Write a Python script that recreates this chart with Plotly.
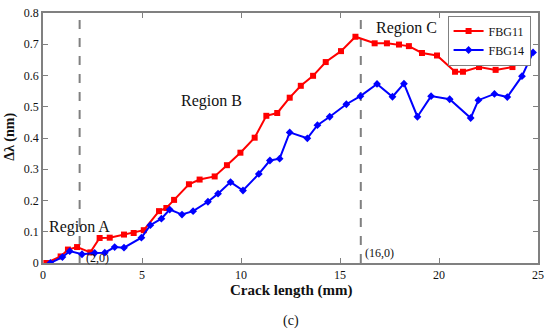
import plotly.graph_objects as go

# FBG11 (red squares)
fbg11_x = [0.17, 0.89, 1.26, 1.72, 2.39, 2.86, 3.37, 4.09, 4.58, 5.09, 5.86, 6.23, 6.62,
           7.37, 7.91, 8.67, 9.29, 9.97, 10.69, 11.28, 11.83, 12.46, 13.02, 13.64, 14.28,
           15.05, 15.78, 16.75, 17.37, 17.98, 18.48, 19.14, 19.90, 20.81, 21.21, 22.02,
           22.86, 23.71, 24.26]
fbg11_y = [0.0, 0.021, 0.043, 0.051, 0.034, 0.080, 0.081, 0.091, 0.096, 0.105, 0.166, 0.176,
           0.202, 0.252, 0.267, 0.277, 0.313, 0.353, 0.401, 0.471, 0.480, 0.529, 0.567, 0.599,
           0.643, 0.678, 0.724, 0.703, 0.703, 0.699, 0.694, 0.672, 0.664, 0.612, 0.612,
           0.627, 0.618, 0.627, 0.653]

# FBG14 (blue diamonds)
fbg14_x = [0.37, 0.98, 1.35, 1.97, 2.61, 3.12, 3.62, 4.09, 4.97, 5.42, 5.98, 6.40, 7.02,
           7.58, 8.33, 8.84, 9.47, 10.10, 10.90, 11.46, 11.95, 12.46, 13.35, 13.86, 14.48,
           15.32, 16.03, 16.87, 17.65, 18.23, 18.91, 19.60, 20.54, 21.60, 21.99, 22.80,
           23.45, 24.19, 24.75]
fbg14_y = [0.0, 0.019, 0.038, 0.028, 0.032, 0.033, 0.051, 0.049, 0.081, 0.121, 0.142, 0.171,
           0.155, 0.166, 0.196, 0.222, 0.259, 0.232, 0.285, 0.328, 0.334, 0.418, 0.399, 0.441,
           0.468, 0.508, 0.534, 0.573, 0.532, 0.574, 0.468, 0.534, 0.524, 0.464, 0.521,
           0.541, 0.531, 0.598, 0.674]

x_ticks = [0, 5, 10, 15, 20, 25]
y_ticks = [0, 0.1, 0.2, 0.3, 0.4, 0.5, 0.6, 0.7, 0.8]
y_tick_text = ["0", "0.1", "0.2", "0.3", "0.4", "0.5", "0.6", "0.7", "0.8"]
boundaries = [1.85, 16.05]

FONT = "Liberation Serif, serif"
GRAY = "#808080"
TXT = "#111111"

fig = go.Figure()
fig.add_trace(go.Scatter(x=fbg11_x, y=fbg11_y, mode="lines+markers", name="FBG11",
                         line=dict(color="#ff0000", width=2),
                         marker=dict(symbol="square", size=6, color="#ff0000")))
fig.add_trace(go.Scatter(x=fbg14_x, y=fbg14_y, mode="lines+markers", name="FBG14",
                         line=dict(color="#0000ff", width=2),
                         marker=dict(symbol="diamond", size=6, color="#0000ff")))

for b in boundaries:
    fig.add_shape(type="line", x0=b, x1=b, y0=0, y1=0.8, xref="x", yref="y",
                  line=dict(color=GRAY, width=2, dash="dash"), layer="below")

anns = [
    ("Region A", 1.85, 0.114, 16),
    ("Region B", 8.5, 0.52, 16),
    ("Region C", 18.35, 0.752, 16),
    ("(2,0)", 2.74, 0.015, 12),
    ("(16,0)", 16.99, 0.032, 12),
]
for t, ax_, ay_, fs in anns:
    fig.add_annotation(x=ax_, y=ay_, text=t, showarrow=False, xref="x", yref="y",
                       font=dict(family=FONT, size=fs, color=TXT))

# axis titles and caption
fig.add_annotation(x=0.5, y=-0.108, xref="paper", yref="paper", text="<b>Crack length (mm)</b>",
                   showarrow=False, yanchor="middle",
                   font=dict(family=FONT, size=15, color=TXT))
fig.add_annotation(x=-0.067, y=0.504, xref="paper", yref="paper", text="<b>Δλ (nm)</b>",
                   showarrow=False, textangle=-90, xanchor="center", yanchor="middle",
                   font=dict(family=FONT, size=14, color=TXT))
fig.add_annotation(x=0.5, y=-0.23, xref="paper", yref="paper", text="(c)", showarrow=False,
                   yanchor="middle", font=dict(family=FONT, size=14, color=TXT))

fig.update_layout(
    width=550, height=330,
    margin=dict(l=43, r=12, t=13, b=67, autoexpand=False),
    paper_bgcolor="white", plot_bgcolor="white",
    font=dict(family=FONT, size=12, color=TXT),
    showlegend=True,
    legend=dict(x=0.985, y=0.99, xanchor="right", yanchor="top",
                bgcolor="white", bordercolor=GRAY, borderwidth=1,
                font=dict(family=FONT, size=12, color=TXT),
                tracegroupgap=0, itemwidth=30),
    xaxis=dict(range=[0, 25], tickvals=x_ticks, ticks="inside", ticklen=5,
               tickcolor=GRAY, showline=True, linecolor=GRAY, linewidth=1.5,
               mirror="ticks", showgrid=False, zeroline=False, automargin=False,
               tickfont=dict(family=FONT, size=12, color=TXT)),
    yaxis=dict(range=[0, 0.8], tickvals=y_ticks, ticktext=y_tick_text, ticks="inside",
               ticklen=5, tickcolor=GRAY, showline=True, linecolor=GRAY, linewidth=1.5,
               mirror="ticks", showgrid=False, zeroline=False, automargin=False,
               tickfont=dict(family=FONT, size=12, color=TXT)),
)

fig.write_html("out.html", config={"displayModeBar": False},
               post_script="document.body.style.margin='0';")
